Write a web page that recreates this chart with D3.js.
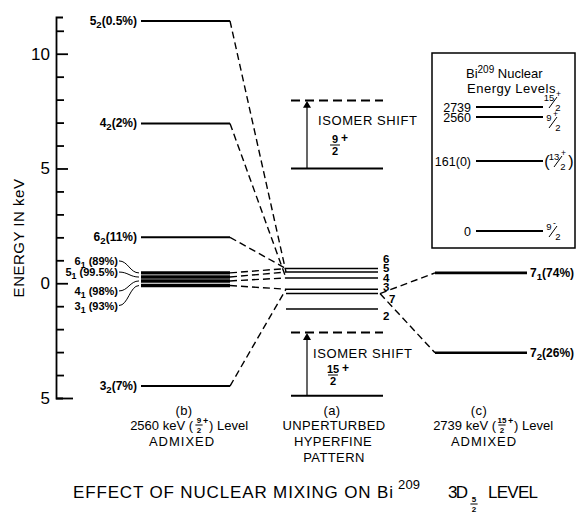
<!DOCTYPE html>
<html>
<meta charset="utf-8">
<style>
  body { margin: 0; background: #fff; }
  svg text { font-family: "Liberation Sans", sans-serif; fill: #000; }
</style>
<body>
<div id="chart"></div>
<script src="https://cdnjs.cloudflare.com/ajax/libs/d3/7.8.5/d3.min.js"></script>
<script>
// energy scale ticks (keV); lower half is labelled without sign
var yMajor = [-5, 0, 5, 10];
var yMajorLabels = ["5", "0", "5", "10"];
var yMinor = [-4, -3, -2, -1, 1, 2, 3, 4, 6, 7, 8, 9, 11];

// (b) 2560 keV level admixed: second-order levels
var bHighF = [5, 4, 6, 3];
var bHighE = [11.43, 6.96, 2.0, -4.48];
var bHighPct = ["0.5%", "2%", "11%", "7%"];
// (b) main levels
var bMainF = [6, 5, 4, 3];
var bMainE = [0.45, 0.27, 0.10, -0.10];
var bMainPct = ["89%", "99.5%", "98%", "93%"];

// (a) unperturbed hyperfine pattern
var hfsF = [6, 5, 4, 3, 7, 2];
var hfsE = [0.64, 0.49, 0.23, -0.26, -0.45, -1.12];

// (c) 2739 keV level admixed
var cSub = [1, 2];
var cE = [0.45, -3.03];
var cPct = ["74%", "26%"];

// isomer shifts [solid, dashed]
var shiftTop = [5.0, 7.96];
var shiftBot = [-4.9, -2.15];

// inset: Bi209 nuclear energy levels
var insetE = [2739, 2560, 161, 0];
var insetLabels = ["2739", "2560", "161(0)", "0"];
var insetSpinNum = ["15", "9", "13", "9"];
var insetParity = ["+", "+", "+", "-"];

var W = 580, H = 518;
var svg = d3.select("#chart").append("svg")
    .attr("width", W).attr("height", H);

var y = d3.scaleLinear().domain([-5, 11.6]).range([398, 17]);
var yIn = d3.scaleLinear().domain([0, 161, 2560, 2739]).range([231, 161, 117, 107]);

// column extents
var bX = [141, 230], aX = [286, 378], cX = [435, 527], sX = [291, 383];

// axis
var axisX = 56;
svg.append("g")
    .attr("transform", "translate(" + axisX + ",0)")
    .call(d3.axisLeft(y).tickValues(yMinor).tickSize(-8).tickSizeOuter(0).tickFormat(""))
    .call(function(g) { g.select(".domain").remove(); })
    .selectAll("line").attr("stroke-width", 1.8);
var ax = svg.append("g")
    .attr("transform", "translate(" + axisX + ",0)")
    .call(d3.axisLeft(y).tickValues(yMajor).tickSize(-12).tickSizeOuter(-7).tickPadding(6)
        .tickFormat(function(d, i) { return yMajorLabels[i]; }));
ax.select(".domain").attr("stroke-width", 1.8);
ax.selectAll("line").attr("stroke-width", 1.8);
ax.selectAll(".tick").filter(function(d) { return d === -5; }).select("line").attr("x2", 17);
ax.selectAll("text").attr("font-size", 17);

svg.append("text")
    .attr("transform", "translate(24,238) rotate(-90)")
    .attr("text-anchor", "middle")
    .attr("font-size", 15).attr("letter-spacing", 0.5)
    .text("ENERGY IN keV");

function levelLabel(g, x, yy, main, sub, tail, anchor, size) {
  var t = g.append("text").attr("x", x).attr("y", yy + 4)
      .attr("text-anchor", anchor).attr("font-size", size).attr("font-weight", "bold");
  t.append("tspan").text(main);
  t.append("tspan").attr("dy", 3).attr("font-size", size * 0.8).text(sub);
  t.append("tspan").attr("dy", -3).text(tail);
  return t;
}

// dashed connections b -> a
var dash = "7,4";
bHighF.forEach(function(f, i) {
  var j = hfsF.indexOf(f);
  svg.append("line").attr("x1", bX[1]).attr("y1", y(bHighE[i]))
      .attr("x2", aX[0]).attr("y2", y(hfsE[j]))
      .attr("stroke", "#000").attr("stroke-width", 1.4).attr("stroke-dasharray", dash);
});
bMainF.forEach(function(f, i) {
  var j = hfsF.indexOf(f);
  svg.append("line").attr("x1", bX[1]).attr("y1", y(bMainE[i]))
      .attr("x2", aX[0]).attr("y2", y(hfsE[j]))
      .attr("stroke", "#000").attr("stroke-width", 1.4).attr("stroke-dasharray", dash);
});
// a (F=7) -> c
var j7 = hfsF.indexOf(7);
cE.forEach(function(e) {
  svg.append("line").attr("x1", aX[1] + 2).attr("y1", y(hfsE[j7]))
      .attr("x2", cX[0]).attr("y2", y(e))
      .attr("stroke", "#000").attr("stroke-width", 1.4).attr("stroke-dasharray", dash);
});

// (b) levels
bHighE.forEach(function(e, i) {
  svg.append("line").attr("x1", bX[0]).attr("x2", bX[1]).attr("y1", y(e)).attr("y2", y(e))
      .attr("stroke", "#000").attr("stroke-width", 2);
  levelLabel(svg, bX[0] - 4, y(e), bHighF[i], "2", "(" + bHighPct[i] + ")", "end", 12);
});
var mainLabelDy = [-12, -5, 10, 20];
bMainE.forEach(function(e, i) {
  svg.append("line").attr("x1", bX[0]).attr("x2", bX[1]).attr("y1", y(e)).attr("y2", y(e))
      .attr("stroke", "#000").attr("stroke-width", 3.4);
  var ly = y(e) + mainLabelDy[i];
  levelLabel(svg, 118, ly, bMainF[i], "1", " (" + bMainPct[i] + ")", "end", 11);
  var p = d3.path();
  p.moveTo(119, ly);
  p.bezierCurveTo(128, ly, 130, y(e), bX[0] - 2, y(e));
  svg.append("path").attr("d", p.toString()).attr("fill", "none")
      .attr("stroke", "#000").attr("stroke-width", 1);
});

// (a) levels
var hfsLabelDx = [5, 5, 5, 5, 11, 5];
var hfsLabelDy = [-10, -4, 0, -2, 5, 7];
hfsE.forEach(function(e, i) {
  svg.append("line").attr("x1", aX[0]).attr("x2", aX[1]).attr("y1", y(e)).attr("y2", y(e))
      .attr("stroke", "#000").attr("stroke-width", 1.6);
  svg.append("text").attr("x", aX[1] + hfsLabelDx[i]).attr("y", y(e) + hfsLabelDy[i] + 4)
      .attr("font-size", 11.5).attr("font-weight", "bold").text(hfsF[i]);
});

// (c) levels
cE.forEach(function(e, i) {
  svg.append("line").attr("x1", cX[0]).attr("x2", cX[1]).attr("y1", y(e)).attr("y2", y(e))
      .attr("stroke", "#000").attr("stroke-width", 2.6);
  levelLabel(svg, cX[1] + 3, y(e), "7", cSub[i], "(" + cPct[i] + ")", "start", 12);
});

// isomer shifts
function frac(g, x, yy, num, den, size) {
  g.append("text").attr("x", x).attr("y", yy - 2).attr("text-anchor", "middle")
      .attr("font-size", size).attr("font-weight", "bold").text(num);
  g.append("line").attr("x1", x - size * 0.45).attr("x2", x + size * 0.45)
      .attr("y1", yy).attr("y2", yy).attr("stroke", "#000").attr("stroke-width", 1);
  g.append("text").attr("x", x).attr("y", yy + size * 0.95).attr("text-anchor", "middle")
      .attr("font-size", size).attr("font-weight", "bold").text(den);
}
function isomer(vals, textPos, fracPos, num) {
  svg.append("line").attr("x1", sX[0]).attr("x2", sX[1]).attr("y1", y(vals[0])).attr("y2", y(vals[0]))
      .attr("stroke", "#000").attr("stroke-width", 2);
  svg.append("line").attr("x1", sX[0]).attr("x2", sX[1]).attr("y1", y(vals[1])).attr("y2", y(vals[1]))
      .attr("stroke", "#000").attr("stroke-width", 2).attr("stroke-dasharray", "9,5");
  svg.append("line").attr("x1", 307).attr("x2", 307).attr("y1", y(vals[0])).attr("y2", y(vals[1]) + 6)
      .attr("stroke", "#000").attr("stroke-width", 1.2);
  svg.append("path").attr("d", d3.symbol(d3.symbolTriangle, 28)())
      .attr("transform", "translate(307," + (y(vals[1]) + 5) + ")");
  svg.append("text").attr("x", textPos[0]).attr("y", textPos[1]).attr("font-size", 13)
      .attr("letter-spacing", 0.6).text("ISOMER SHIFT");
  frac(svg, fracPos[0], fracPos[1], num, "2", 11);
  svg.append("text").attr("x", fracPos[0] + (num.length > 1 ? 9 : 6)).attr("y", fracPos[1] - 3)
      .attr("font-size", 12).attr("font-weight", "bold").text("+");
}
isomer(shiftTop, [318, 125], [335, 145], "9");
isomer(shiftBot, [313, 358], [333, 375], "15");

// inset box
var inset = svg.append("g");
inset.append("rect").attr("x", 432).attr("y", 53).attr("width", 143).attr("height", 195)
    .attr("fill", "none").attr("stroke", "#000").attr("stroke-width", 1.5);
var tt = inset.append("text").attr("x", 466).attr("y", 78).attr("font-size", 13);
tt.append("tspan").text("Bi");
tt.append("tspan").attr("dy", -5).attr("font-size", 10).text("209");
tt.append("tspan").attr("dy", 5).text(" Nuclear");
inset.append("text").attr("x", 467).attr("y", 93).attr("font-size", 13)
    .attr("letter-spacing", 0.5).text("Energy Levels");
var spinDy = [-5, 5, 0, 0];
insetE.forEach(function(e, i) {
  var yy = yIn(e);
  inset.append("line").attr("x1", 476).attr("x2", 543).attr("y1", yy).attr("y2", yy)
      .attr("stroke", "#000").attr("stroke-width", 2);
  inset.append("text").attr("x", 471).attr("y", yy + 4.5).attr("text-anchor", "end")
      .attr("font-size", 12.5).text(insetLabels[i]);
  var x0 = i === 2 ? 550 : 545;
  var yc = yy + spinDy[i];
  inset.append("text").attr("x", x0 + 4).attr("y", yc - 1).attr("text-anchor", "middle")
      .attr("font-size", 9.5).text(insetSpinNum[i]);
  inset.append("text").attr("x", x0 + 5 + insetSpinNum[i].length * 3).attr("y", yc - 5)
      .attr("font-size", 8.5).text(insetParity[i]);
  inset.append("line").attr("x1", x0 + 4).attr("x2", x0 + 12).attr("y1", yc + 6).attr("y2", yc - 5)
      .attr("stroke", "#000").attr("stroke-width", 1);
  inset.append("text").attr("x", x0 + 13).attr("y", yc + 9).attr("text-anchor", "middle")
      .attr("font-size", 9.5).text("2");
  if (i === 2) {
    inset.append("text").attr("x", x0 - 3).attr("y", yy + 6).attr("font-size", 16)
        .attr("text-anchor", "middle").text("(");
    inset.append("text").attr("x", x0 + 21).attr("y", yy + 6).attr("font-size", 16)
        .attr("text-anchor", "middle").text(")");
  }
});

// column captions
function caption(x, yy, s, size) {
  return svg.append("text").attr("x", x).attr("y", yy).attr("text-anchor", "middle")
      .attr("font-size", size || 13).attr("letter-spacing", 0.4).text(s);
}
caption(184, 415, "(b)");
caption(332, 415, "(a)");
caption(479, 415, "(c)");
function keVCaption(x, yy, energy, num) {
  var g = svg.append("g");
  g.append("text").attr("x", x).attr("y", yy).attr("text-anchor", "end")
      .attr("font-size", 13).text(energy + " keV (");
  frac(g, x + 6, yy - 5, num, "2", 8);
  g.append("text").attr("x", x + (num.length > 1 ? 12 : 10)).attr("y", yy - 6)
      .attr("font-size", 9).attr("font-weight", "bold").text("+");
  g.append("text").attr("x", x + (num.length > 1 ? 18 : 16)).attr("y", yy)
      .attr("font-size", 13).text(") Level");
}
keVCaption(193, 430, "2560", "9");
keVCaption(496, 430, "2739", "15");
caption(182, 446, "ADMIXED").attr("letter-spacing", 1);
caption(484, 446, "ADMIXED").attr("letter-spacing", 1);
caption(334, 430, "UNPERTURBED");
caption(333, 446, "HYPERFINE");
caption(334, 462, "PATTERN");

// title
svg.append("text").attr("x", 73).attr("y", 498).attr("font-size", 17)
    .attr("textLength", 320).attr("lengthAdjust", "spacing")
    .text("EFFECT OF NUCLEAR MIXING ON Bi");
svg.append("text").attr("x", 398).attr("y", 489).attr("font-size", 13)
    .attr("textLength", 22).attr("lengthAdjust", "spacing").text("209");
svg.append("text").attr("x", 448).attr("y", 498).attr("font-size", 17)
    .attr("textLength", 20).attr("lengthAdjust", "spacing").text("3D");
frac(svg, 474, 504, "5", "2", 8);
svg.append("text").attr("x", 488).attr("y", 498).attr("font-size", 17)
    .attr("textLength", 50).attr("lengthAdjust", "spacing").text("LEVEL");
</script>
</body>
</html>
